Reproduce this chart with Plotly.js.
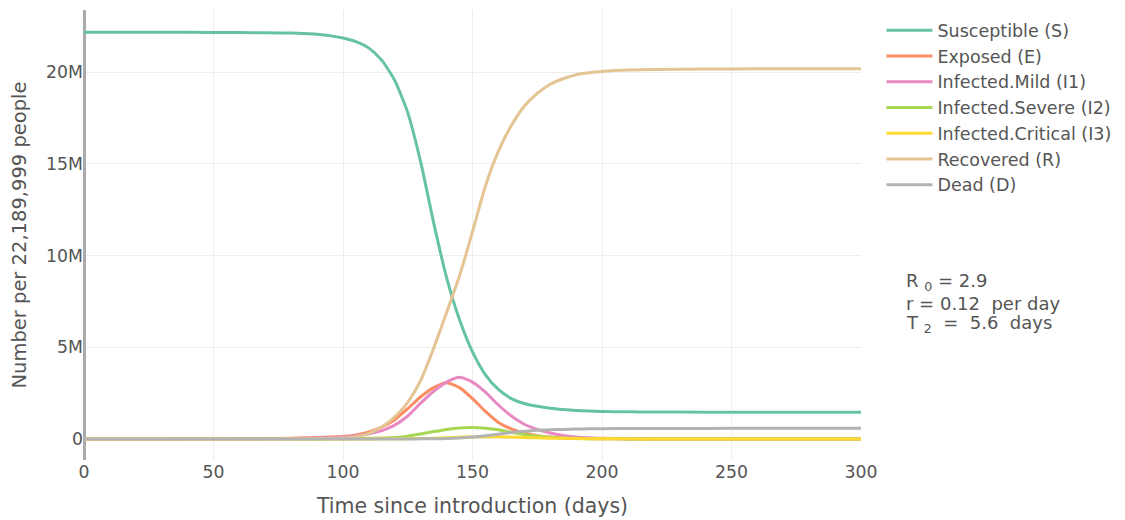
<!DOCTYPE html>
<html>
<head>
<meta charset="utf-8">
<script src="https://cdn.plot.ly/plotly-3.0.1.min.js"></script>
<style>html,body{margin:0;padding:0;background:#fff;}#chart{width:1125px;height:520px;}</style>
</head>
<body>
<div id="chart"></div>
<script>
// Time since introduction (days)
const days = [0,20,40,60,70,80,85,90,95,100,105,110,115,120,125,130,135,140,145,150,155,160,165,170,175,180,185,190,195,200,210,220,240,260,280,300];
// Values in millions of people
const susceptible = [22.19,22.19,22.18,22.17,22.16,22.14,22.12,22.08,22.0,21.87,21.67,21.32,20.65,19.55,17.8,15.1,11.8,8.8,6.5,4.75,3.5,2.7,2.2,1.93,1.78,1.67,1.6,1.55,1.52,1.5,1.48,1.47,1.46,1.455,1.45,1.45];
const exposed = [0,0,0.005,0.01,0.02,0.04,0.06,0.08,0.1,0.13,0.22,0.38,0.65,1.05,1.65,2.3,2.8,3.07,2.8,2.2,1.5,0.9,0.55,0.33,0.18,0.1,0.06,0.03,0.02,0.01,0,0,0,0,0,0];
const infectedMild = [0,0,0,0.005,0.01,0.02,0.03,0.05,0.07,0.1,0.17,0.28,0.45,0.75,1.25,1.95,2.6,3.1,3.36,3.1,2.55,1.85,1.25,0.8,0.52,0.32,0.19,0.11,0.06,0.03,0.01,0,0,0,0,0];
const infectedSevere = [0,0,0,0,0,0,0,0,0.005,0.01,0.02,0.03,0.05,0.08,0.15,0.27,0.4,0.52,0.6,0.62,0.58,0.5,0.36,0.24,0.15,0.09,0.05,0.03,0.015,0.01,0,0,0,0,0,0];
const infectedCritical = [0,0,0,0,0,0,0,0,0,0,0,0,0.005,0.01,0.015,0.02,0.04,0.06,0.09,0.11,0.12,0.12,0.1,0.08,0.06,0.04,0.03,0.02,0.01,0.01,0.005,0,0,0,0,0];
const recovered = [0,0,0,0,0,0.005,0.01,0.02,0.03,0.05,0.12,0.3,0.65,1.2,2.0,3.2,4.95,6.9,8.9,11.3,13.8,15.7,17.1,18.15,18.85,19.35,19.65,19.87,19.98,20.05,20.12,20.15,20.18,20.19,20.2,20.2];
const dead = [0,0,0,0,0,0,0,0,0,0,0,0,0,0,0,0.005,0.01,0.02,0.05,0.1,0.17,0.26,0.35,0.42,0.47,0.5,0.52,0.54,0.55,0.56,0.57,0.57,0.575,0.58,0.58,0.58];

const seriesNames = ["Susceptible (S)","Exposed (E)","Infected.Mild (I1)","Infected.Severe (I2)","Infected.Critical (I3)","Recovered (R)","Dead (D)"];
const seriesValues = [susceptible, exposed, infectedMild, infectedSevere, infectedCritical, recovered, dead];
const seriesColors = ["#66c2a5","#fc8d62","#e78ac3","#a6d854","#ffd92f","#e5c494","#b3b3b3"];

// Parameter box lines
const paramLines = ["R <sub>0</sub> = 2.9", "r = 0.12&nbsp; per day", "T <sub>2</sub> &nbsp;= &nbsp;5.6 &nbsp;days"];

const traces = seriesNames.map((name, i) => ({
  x: days,
  y: seriesValues[i].map(v => v * 1e6),
  name: name,
  type: "scatter",
  mode: "lines",
  line: {color: seriesColors[i], width: 3, shape: "spline", smoothing: 0.6}
}));

const fontFam = "DejaVu Sans, Verdana, sans-serif";
const txtColor = "#555";
const layout = {
  width: 1125, height: 520,
  margin: {l: 84, r: 263, t: 10, b: 60},
  paper_bgcolor: "#fff", plot_bgcolor: "#fff",
  font: {family: fontFam, size: 17, color: txtColor},
  showlegend: true,
  legend: {x: 1.025, xanchor: "left", y: 0.995, yanchor: "top", itemwidth: 46,
           font: {family: fontFam, size: 17.5, color: txtColor}, bgcolor: "rgba(0,0,0,0)"},
  xaxis: {
    range: [0, 300], tickvals: [0,50,100,150,200,250,300],
    showgrid: true, gridcolor: "#eeeeee", gridwidth: 1,
    zeroline: true, zerolinecolor: "#aaaaaa", zerolinewidth: 3,
    showline: false, ticks: "",
    tickfont: {family: fontFam, size: 17.3, color: txtColor},
    title: {text: "Time since introduction (days)", font: {family: fontFam, size: 20.5, color: txtColor}, standoff: 17}
  },
  yaxis: {
    range: [-1.15e6, 23.4e6], tickvals: [0, 5e6, 10e6, 15e6, 20e6],
    showgrid: true, gridcolor: "#eeeeee", gridwidth: 1,
    zeroline: false, showline: false, ticks: "",
    tickfont: {family: fontFam, size: 17.3, color: txtColor},
    title: {text: "Number per 22,189,999 people", font: {family: fontFam, size: 19.5, color: txtColor}, standoff: 14}
  },
  annotations: paramLines.map((t, i) => ({
    xref: "paper", yref: "paper", x: 1.0553, y: (460 - (282 + 21 * i)) / 450,
    xanchor: "left", yanchor: "middle", align: "left", showarrow: false,
    text: t, font: {family: fontFam, size: 18, color: txtColor}
  }))
};

Plotly.newPlot("chart", traces, layout, {displayModeBar: false, responsive: false});
</script>
</body>
</html>
